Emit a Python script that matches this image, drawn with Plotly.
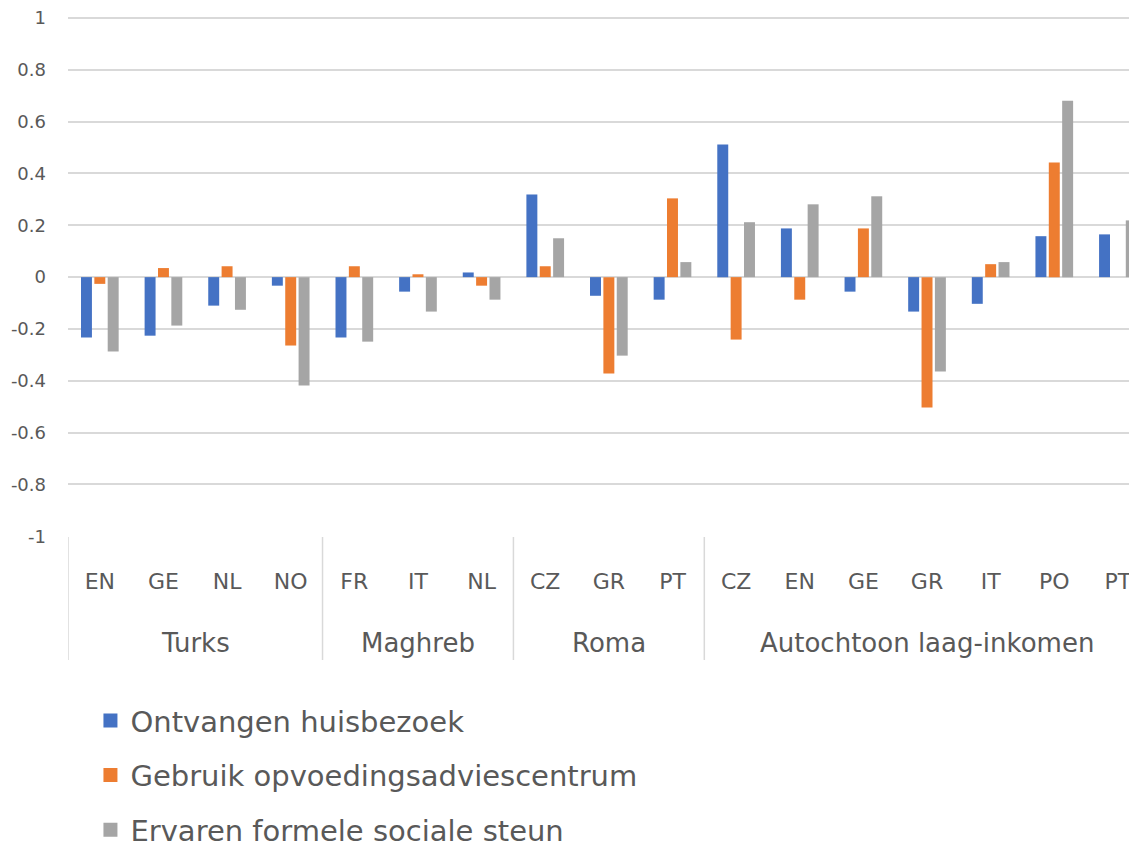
import plotly.graph_objects as go

groups = ["Turks"] * 4 + ["Maghreb"] * 3 + ["Roma"] * 3 + ["Autochtoon laag-inkomen"] * 7
countries = ["EN", "GE", "NL", "NO", "FR", "IT", "NL", "CZ", "GR", "PT",
             "CZ", "EN", "GE", "GR", "IT", "PO", "PT"]

huisbezoek = [-0.233, -0.226, -0.110, -0.033, -0.233, -0.056, 0.018, 0.319, -0.072, -0.087,
              0.512, 0.188, -0.056, -0.133, -0.103, 0.158, 0.165]
opvoeding = [-0.026, 0.035, 0.042, -0.264, 0.042, 0.011, -0.033, 0.042, -0.372, 0.304,
             -0.241, -0.087, 0.188, -0.503, 0.050, 0.442, 0.0]
sociale_steun = [-0.287, -0.187, -0.126, -0.418, -0.249, -0.133, -0.087, 0.150, -0.303, 0.058,
                 0.212, 0.281, 0.312, -0.364, 0.058, 0.681, 0.219]

series_names = ["Ontvangen huisbezoek", "Gebruik opvoedingsadviescentrum", "Ervaren formele sociale steun"]
series_colors = ["#4472C4", "#ED7D31", "#A5A5A5"]
y_ticks = [-1, -0.8, -0.6, -0.4, -0.2, 0, 0.2, 0.4, 0.6, 0.8, 1]
y_tick_text = ["-1", "-0.8", "-0.6", "-0.4", "-0.2", "0", "0.2", "0.4", "0.6", "0.8", "1"]

FONT = "DejaVu Sans"
TXT = "#595959"
GRID = "#D9D9D9"

x_ids = [f"{g}|{c}" for g, c in zip(groups, countries)]

fig = go.Figure()
for i, (name, vals, col) in enumerate(zip(series_names, [huisbezoek, opvoeding, sociale_steun], series_colors)):
    fig.add_trace(go.Bar(x=x_ids, y=vals, name=name, marker_color=col,
                         marker_line_width=0, legendgroup=f"g{i}", showlegend=False))
    # legend entry with a larger square swatch
    fig.add_trace(go.Scatter(x=[None], y=[None], mode="markers", name=name,
                             marker=dict(symbol="square", size=14, color=col, line_width=0),
                             legendgroup=f"g{i}", showlegend=True))

# group spans
group_order = []
for g in groups:
    if g not in group_order:
        group_order.append(g)
starts = [groups.index(g) for g in group_order]
ends = [len(groups) - 1 - groups[::-1].index(g) for g in group_order]

for g, s, e in zip(group_order, starts, ends):
    fig.add_annotation(x=(s + e) / 2, xref="x", y=-0.2038, yref="paper", text=g,
                       showarrow=False, font=dict(family=FONT, size=26, color=TXT),
                       xanchor="center", yanchor="middle")
    fig.add_shape(type="line", xref="x", yref="paper", x0=s - 0.5, x1=s - 0.5,
                  y0=0, y1=-0.2365, line=dict(color=GRID, width=1.5))

# page body has an 8px margin: shift figure geometry accordingly
fig.update_layout(
    width=1129, height=843,
    margin=dict(l=60, r=0, t=9, b=314),
    paper_bgcolor="white", plot_bgcolor="white",
    barmode="group", bargap=0.37, bargroupgap=0.18,
    font=dict(family=FONT, color=TXT),
    legend=dict(orientation="v", x=0.021, xanchor="left", xref="paper",
                y=0.185, yanchor="top", yref="container",
                font=dict(family=FONT, size=29, color=TXT),
                tracegroupgap=14, traceorder="grouped", itemsizing="trace"),
    showlegend=True,
)
fig.update_yaxes(range=[-1.003, 1.004], tickvals=y_ticks, ticktext=y_tick_text, automargin=False,
                 showgrid=True, gridcolor=GRID, gridwidth=1.5,
                 zeroline=True, zerolinecolor=GRID, zerolinewidth=1.5,
                 showline=False, ticks="", ticklabelstandoff=21, ticklabeloverflow="allow",
                 tickfont=dict(family=FONT, size=18, color=TXT))
fig.update_xaxes(type="category", range=[-0.5, 16.3], automargin=False,
                 tickvals=x_ids, ticktext=countries,
                 showgrid=False, showline=False, zeroline=False,
                 ticks="", ticklabelstandoff=29,
                 tickfont=dict(family=FONT, size=22, color=TXT))

fig.write_html("out.html")
